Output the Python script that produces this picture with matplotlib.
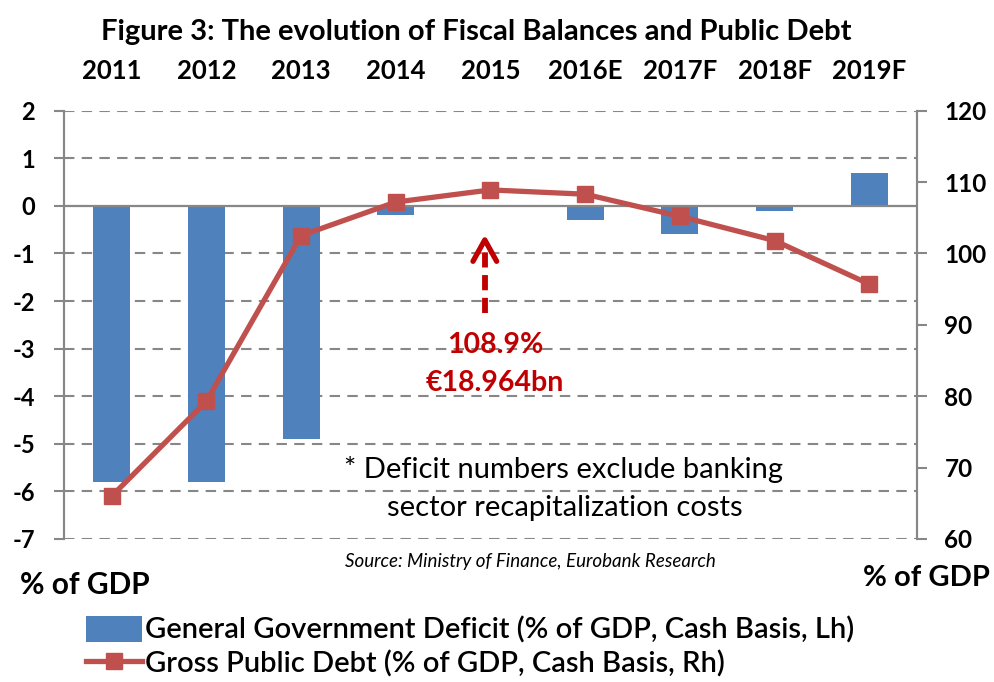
import numpy as np
import matplotlib
matplotlib.use("Agg")
import matplotlib.pyplot as plt

plt.rcParams['font.family'] = ['Lato', 'DejaVu Sans']
plt.rcParams['axes.unicode_minus'] = False

years = ["2011", "2012", "2013", "2014", "2015", "2016E", "2017F", "2018F", "2019F"]
deficit = [-5.8, -5.8, -4.9, -0.2, 0.0, -0.3, -0.6, -0.1, 0.7]
debt = [66.0, 79.3, 102.5, 107.2, 108.9, 108.3, 105.2, 101.8, 95.7]

bar_blue = "#4F81BD"
line_red = "#C0504D"
grid_grey = "#878787"
note_red = "#C00000"

fig = plt.figure(figsize=(9.94, 6.82), dpi=100)
ax = fig.add_axes([0.0647, 0.2097, 0.8575, 0.628])
ax2 = ax.twinx()

x = np.arange(len(years))

# deficit bars on the left axis
bars = ax.bar(x, deficit, width=0.39, color=bar_blue, zorder=2,
              label="General Government Deficit (% of GDP, Cash Basis, Lh)")
ax.set_ylim(-7, 2)
ax.set_xlim(-0.5, len(years) - 0.5)
ax.set_yticks(np.arange(-7, 3, 1))
for v in np.arange(-7, 3, 1):
    if v == 0:
        ax.axhline(0, color=grid_grey, lw=1.6, zorder=3)
    else:
        ax.axhline(v, color=grid_grey, lw=1.5, ls=(0, (5, 3.5)), zorder=1)

# categories run along the top
ax.xaxis.tick_top()
ax.set_xticks(x)
ax.set_xticklabels(years, fontsize=18.5, fontweight='bold')
ax.tick_params(axis='x', length=0, pad=20)
ax.tick_params(axis='y', direction='out', length=7, width=1.5, color=grid_grey,
               labelsize=17, pad=14)
for lab in ax.get_yticklabels():
    lab.set_fontweight('bold')

# debt line on the right axis
line, = ax2.plot(x, debt, color=line_red, lw=3.8, marker='s', markersize=11.5,
                 zorder=4, label="Gross Public Debt (% of GDP, Cash Basis, Rh)")
ax2.set_ylim(60, 120)
ax2.set_yticks(np.arange(60, 121, 10))
ax2.tick_params(axis='y', direction='out', length=7, width=1.5, color=grid_grey,
                labelsize=17.5, pad=13)
for lab in ax2.get_yticklabels():
    lab.set_fontweight('bold')

for a in (ax, ax2):
    a.spines['top'].set_visible(False)
    a.spines['bottom'].set_visible(False)
    a.spines['left'].set_color(grid_grey)
    a.spines['right'].set_color(grid_grey)
    a.spines['left'].set_linewidth(1.5)
    a.spines['right'].set_linewidth(1.5)
ax2.set_zorder(ax.get_zorder() + 1)
ax2.patch.set_visible(False)

# 2015 peak callout: dashed shaft with an open arrow head
arrow_x = 3.94
ax2.plot([arrow_x, arrow_x], [91.7, 101.0], color=note_red, lw=4.2,
         ls=(0, (2.6, 1.3)), solid_capstyle='butt', zorder=5)
ax2.plot([arrow_x - 0.125, arrow_x, arrow_x + 0.125], [98.9, 101.9, 98.9],
         color=note_red, lw=3.8, solid_joinstyle='round', solid_capstyle='round',
         zorder=5)
ax2.text(4.05, 87.2, "108.9%", color=note_red, fontsize=20.5, fontweight='bold',
         ha='center', va='center')
ax2.text(4.05, 81.9, "\u20ac18.964bn", color=note_red, fontsize=20.5, fontweight='bold',
         ha='center', va='center')

ax2.text(4.77, 69.7, "* Deficit numbers exclude banking", fontsize=21,
         ha='center', va='center')
ax2.text(4.79, 64.4, "sector recapitalization costs", fontsize=21,
         ha='center', va='center')

fig.text(0.479, 0.953, "Figure 3: The evolution of Fiscal Balances and Public Debt",
         fontsize=21, fontweight='bold', ha='center', va='center')
fig.text(0.534, 0.176, "Source: Ministry of Finance, Eurobank Research",
         fontsize=13.5, style='italic', ha='center', va='center')
fig.text(0.02, 0.142, "% of GDP", fontsize=21.5, fontweight='bold', ha='left', va='center')
fig.text(0.996, 0.152, "% of GDP", fontsize=21, fontweight='bold', ha='right', va='center')

fig.legend(handles=[bars, line], loc='upper left', bbox_to_anchor=(0.087, 0.097),
           frameon=False, handlelength=1.9, handleheight=1.0,
           handletextpad=0.1, labelspacing=0.18, borderpad=0, borderaxespad=0,
           prop={'weight': 'semibold', 'size': 21})

fig.savefig("out.png", dpi=100)
